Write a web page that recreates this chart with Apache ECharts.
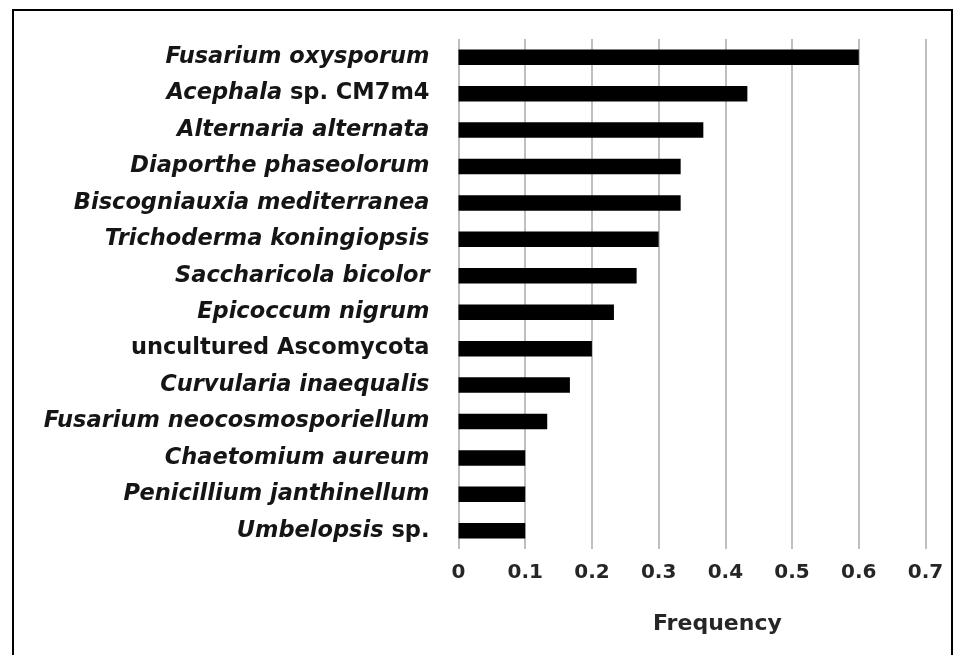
<!DOCTYPE html>
<html>
<head>
<meta charset="utf-8">
<script src="https://cdn.jsdelivr.net/npm/echarts@6/dist/echarts.min.js"></script>
<style>html,body{margin:0;padding:0;background:#fff;}#c{width:959px;height:655px;}</style>
</head>
<body>
<div id="c"></div>
<script>
// Category labels: italic part + roman part
var italicParts = ["Fusarium oxysporum", "Acephala", "Alternaria alternata", "Diaporthe phaseolorum",
  "Biscogniauxia mediterranea", "Trichoderma koningiopsis", "Saccharicola bicolor", "Epicoccum nigrum",
  "", "Curvularia inaequalis", "Fusarium neocosmosporiellum", "Chaetomium aureum",
  "Penicillium janthinellum", "Umbelopsis"];
var romanParts = ["", " sp. CM7m4", "", "", "", "", "", "", "uncultured Ascomycota", "", "", "", "", " sp."];
var categories = italicParts.map(function (s, i) { return s + romanParts[i]; });
var values = [0.6, 0.433, 0.367, 0.333, 0.333, 0.3, 0.267, 0.233, 0.2, 0.167, 0.133, 0.1, 0.1, 0.1];
var xTicks = [0, 0.1, 0.2, 0.3, 0.4, 0.5, 0.6, 0.7];

var chart = echarts.init(document.getElementById('c'), null, { renderer: 'canvas' });
var FONT = 'DejaVu Sans';
chart.setOption({
  animation: false,
  backgroundColor: '#fff',
  grid: { left: 458.5, right: 33.5, top: 39, bottom: 106, containLabel: false },
  xAxis: {
    type: 'value', min: xTicks[0], max: xTicks[xTicks.length - 1], interval: 0.1,
    axisLine: { show: false }, axisTick: { show: false },
    splitLine: { show: true, lineStyle: { color: '#bfbfbf', width: 2 } },
    axisLabel: {
      margin: 14, fontFamily: FONT, fontSize: 20, fontWeight: 'bold', color: '#262626',
      formatter: function (v) { return String(Math.round(v * 10) / 10); }
    }
  },
  yAxis: {
    type: 'category', data: categories, inverse: true,
    axisLine: { show: false }, axisTick: { show: false }, splitLine: { show: false },
    axisLabel: {
      margin: 29, align: 'right',
      formatter: function (v, i) {
        var out = '';
        if (italicParts[i]) out += '{i|' + italicParts[i] + '}';
        if (romanParts[i]) out += '{r|' + romanParts[i] + '}';
        return out;
      },
      rich: {
        i: { fontFamily: FONT, fontStyle: 'italic', fontWeight: 'bold', fontSize: 22.5, color: '#151515' },
        r: { fontFamily: FONT, fontStyle: 'normal', fontWeight: 'bold', fontSize: 22.5, color: '#151515' }
      }
    }
  },
  series: [{
    type: 'bar', data: values, barWidth: 15.5,
    itemStyle: { color: '#000' }
  }],
  graphic: [
    { type: 'rect', shape: { x: 13, y: 10, width: 939, height: 660 },
      style: { fill: 'none', stroke: '#000', lineWidth: 2 }, z: 100 },
    { type: 'text', left: 653, top: 613,
      style: { text: 'Frequency', fontFamily: FONT, fontSize: 22, fontWeight: 'bold', fill: '#262626' } }
  ]
});
</script>
</body>
</html>
